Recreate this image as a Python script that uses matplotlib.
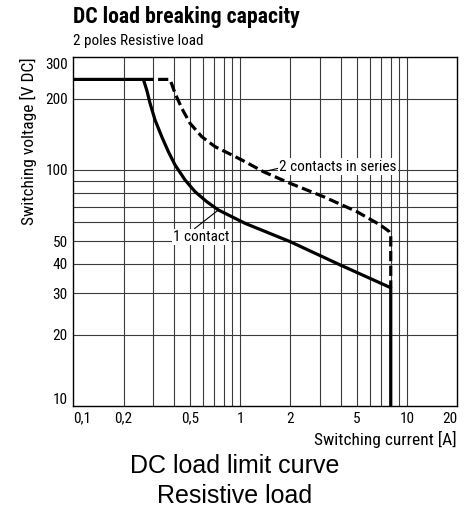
import matplotlib
matplotlib.use("Agg")
import matplotlib.pyplot as plt
import matplotlib.transforms as mtransforms

COND = ["Roboto Condensed", "DejaVu Sans"]
plt.rcParams["font.family"] = COND

# 1 contact curve (A, V DC)
one_i = [0.1, 0.263, 0.2756, 0.2884, 0.309, 0.339, 0.3715, 0.4074, 0.4677, 0.537,
         0.631, 0.741, 0.892, 1.072, 1.995, 3.98, 8.0, 8.0]
one_v = [242, 242, 218, 191.7, 162.9, 138.4, 119.5, 105, 90.7, 80.9,
         73.4, 67.7, 63.4, 59.4, 49.7, 39.6, 31.7, 10]

# 2 contacts in series curve
two_i = [0.263, 0.380, 0.4074, 0.447, 0.501, 0.589, 0.708, 0.892, 1.072, 1.38,
         1.995, 3.16, 5.01, 6.92, 7.8, 8.0, 8.0]
two_v = [242, 242, 211.3, 182.5, 157.7, 138.4, 125.5, 115.8, 108.4, 98.3,
         87.8, 77.1, 66.6, 58.5, 55, 53, 31.7]

x_ticks = [0.1, 0.2, 0.5, 1, 2, 5, 10, 20]
x_labels = ["0,1", "0,2", "0,5", "1", "2", "5", "10", "20"]
x_grid = [0.2, 0.3, 0.4, 0.5, 0.6, 0.7, 0.8, 0.9, 1, 2, 3, 4, 5, 6, 7, 8, 9, 10]
y_ticks = [10, 20, 30, 40, 50, 100, 200, 300]
y_grid = [20, 30, 40, 50, 60, 70, 80, 90, 100, 200]

fig = plt.figure(figsize=(4.65, 5.11), dpi=100)
ax = fig.add_axes([0.1577, 0.2055, 0.8253, 0.6822])
ax.set_xscale("log")
ax.set_yscale("log")
ax.set_xlim(0.1, 20)
ax.set_ylim(10, 300)

for g in x_grid:
    ax.axvline(g, color="#3a3a3a", lw=0.8, zorder=1)
for g in y_grid:
    ax.axhline(g, color="#3a3a3a", lw=0.8, zorder=1)

ax.plot(one_i, one_v, color="black", lw=2.3, zorder=3)
ax.plot(two_i, two_v, color="black", lw=2.3, ls=(0, (3.2, 1.4)), zorder=3)

ax.xaxis.set_major_locator(plt.FixedLocator(x_ticks))
ax.xaxis.set_minor_locator(plt.NullLocator())
ax.set_xticklabels(x_labels)
ax.yaxis.set_major_locator(plt.FixedLocator(y_ticks))
ax.yaxis.set_minor_locator(plt.NullLocator())
ax.set_yticklabels([str(v) for v in y_ticks])
ax.tick_params(length=0, labelsize=11, pad=4)

xl = ax.get_xticklabels()
xl[0].set_ha("left")
xl[-1].set_ha("right")
yl = ax.get_yticklabels()
yl[0].set_transform(yl[0].get_transform() + mtransforms.ScaledTranslation(0, 7 / 100, fig.dpi_scale_trans))
yl[-1].set_transform(yl[-1].get_transform() + mtransforms.ScaledTranslation(0, -6 / 100, fig.dpi_scale_trans))

for s in ax.spines.values():
    s.set_linewidth(1.0)

ax.set_xlabel("Switching current [A]", fontsize=12.5, loc="right", labelpad=4)
ax.set_ylabel("Switching voltage [V DC]", fontsize=12.5, loc="top", labelpad=6)

box = dict(facecolor="white", edgecolor="none", pad=1)
ax.annotate("2 contacts in series", xy=(1.38, 98.3), xytext=(1.72, 103.3),
            fontsize=11, va="center", ha="left", bbox=box, zorder=4,
            arrowprops=dict(arrowstyle="-", color="black", lw=0.8, shrinkA=0, shrinkB=0,
                            relpos=(0.0, 0.4)))
ax.annotate("1 contact", xy=(0.741, 67.7), xytext=(0.396, 52),
            fontsize=11, va="center", ha="left", bbox=box, zorder=4,
            arrowprops=dict(arrowstyle="-", color="black", lw=0.8, shrinkA=0, shrinkB=0,
                            relpos=(0.35, 1.0)))

fig.text(73 / 465, 1 - 17 / 511, "DC load breaking capacity", fontsize=15.7,
         fontweight="bold", ha="left", va="center")
fig.text(73 / 465, 1 - 41 / 511, "2 poles Resistive load", fontsize=10.9,
         ha="left", va="center")

fig.text(235 / 465, 1 - 473 / 511, "DC load limit curve", fontsize=18,
         family=["Liberation Sans", "DejaVu Sans"], ha="center", va="baseline")
fig.text(235 / 465, 1 - 503 / 511, "Resistive load", fontsize=18,
         family=["Liberation Sans", "DejaVu Sans"], ha="center", va="baseline")

fig.savefig("out.png", dpi=100)
